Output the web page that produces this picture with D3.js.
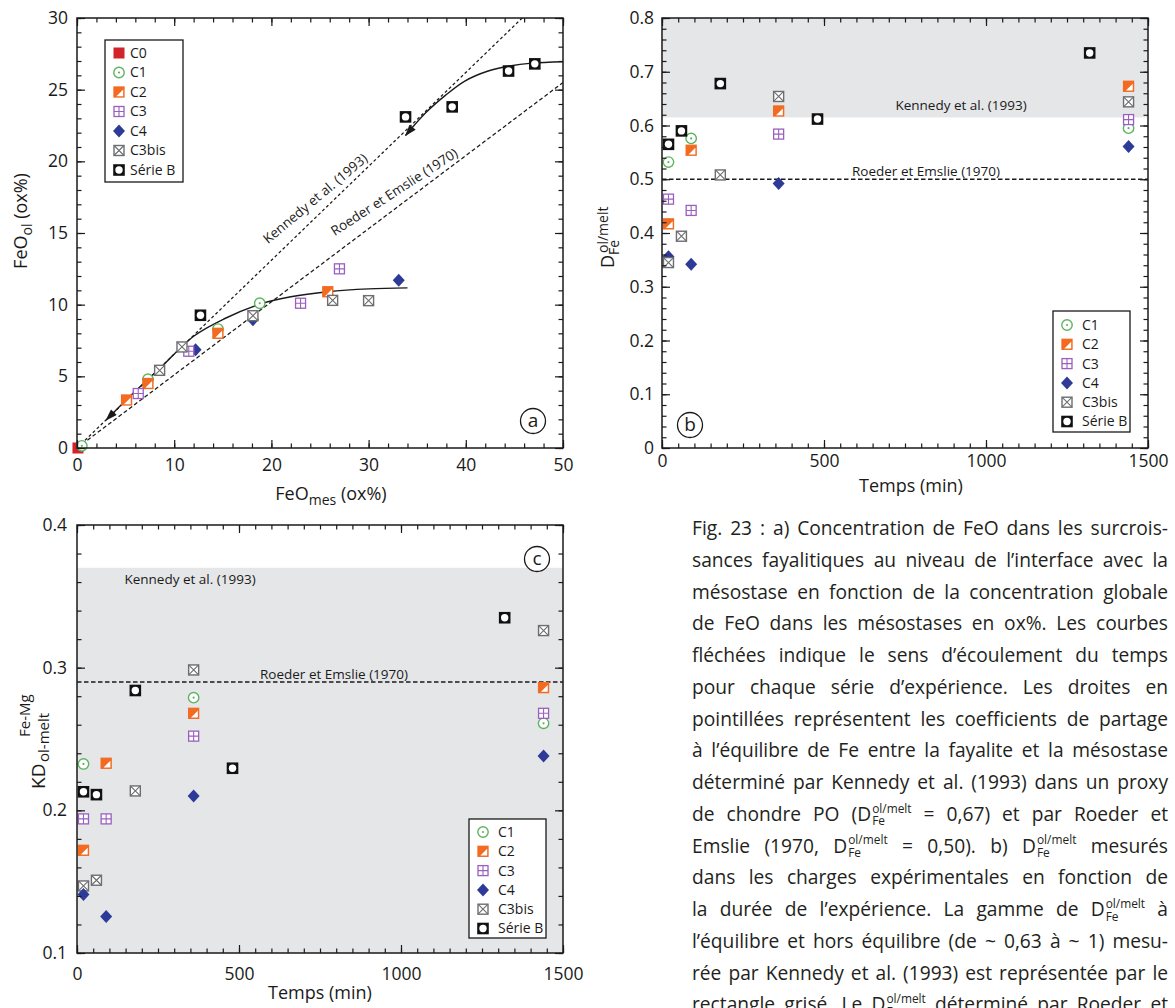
<!DOCTYPE html>
<html><head><meta charset="utf-8">
<script src="https://cdn.jsdelivr.net/npm/d3@7"></script>
<style>
html,body{margin:0;padding:0;background:#fff;overflow:hidden;width:1175px;height:1008px}
svg{display:block}
</style></head><body>
<svg id="fig" width="1175" height="1008"></svg>
<script>
// ================= DATA =================
const seriesNames = ["C0","C1","C2","C3","C4","C3bis","Série B"];

// Panel a : FeO_mes (ox%) -> FeO_ol (ox%)
const aC0     = [[0.1,0.0]];
const aC1     = [[0.5,0.15],[7.3,4.8],[14.5,8.3],[18.8,10.1]];
const aC2     = [[5.1,3.35],[7.3,4.5],[14.5,8.0],[25.8,10.9]];
const aC3     = [[6.3,3.8],[11.5,6.75],[23.0,10.1],[27.0,12.5]];
const aC4     = [[12.2,6.85],[18.1,8.95],[33.1,11.7]];
const aC3bis  = [[8.5,5.42],[10.8,7.05],[18.1,9.23],[26.3,10.3],[30.0,10.28]];
const aSerieB = [[12.7,9.26],[33.8,23.1],[38.6,23.8],[44.4,26.3],[47.1,26.8]];
const aCurveC = [[3.0,1.95],[5.5,3.65],[8.6,5.6],[12.0,7.8],[15.1,9.0],[18.9,10.05],[22.0,10.55],[25.8,10.9],[30.0,11.1],[34.0,11.17]];
const aCurveB = [[33.8,21.8],[35.9,23.4],[37.9,24.6],[39.9,25.6],[42.3,26.3],[44.5,26.65],[46.8,26.85],[50.0,26.95]];
const aRefNames  = ["Kennedy et al. (1993)","Roeder et Emslie (1970)"];
const aRefSlopes = [0.655, 0.51];
const aXTicks = [0,10,20,30,40,50];
const aYTicks = [0,5,10,15,20,25,30];

// Panel b : Temps (min) -> D Fe ol/melt
const bC1     = [[20,0.532],[90,0.576],[1440,0.595]];
const bC2     = [[20,0.417],[90,0.554],[360,0.627],[1440,0.673]];
const bC3     = [[20,0.463],[90,0.442],[360,0.584],[1440,0.611]];
const bC4     = [[20,0.356],[90,0.342],[360,0.492],[1440,0.561]];
const bC3bis  = [[20,0.345],[60,0.394],[180,0.508],[360,0.654],[1440,0.644]];
const bSerieB = [[20,0.565],[60,0.590],[180,0.678],[480,0.612],[1320,0.735]];
const bKennedyBand = [0.615, 0.8];
const bRoeder = 0.5;
const bXTicks = [0,500,1000,1500];
const bYTicks = [0,0.1,0.2,0.3,0.4,0.5,0.6,0.7,0.8];
const bYTickLabels = ["0","0.1","0.2","0.3","0.4","0.5","0.6","0.7","0.8"];

// Panel c : Temps (min) -> KD Fe-Mg ol-melt
const cC1     = [[20,0.2325],[360,0.279],[1440,0.261]];
const cC2     = [[20,0.172],[90,0.233],[360,0.268],[1440,0.286]];
const cC3     = [[20,0.194],[90,0.194],[360,0.252],[1440,0.268]];
const cC4     = [[20,0.141],[90,0.1255],[360,0.210],[1440,0.238]];
const cC3bis  = [[20,0.147],[60,0.151],[180,0.2136],[360,0.2984],[1440,0.326]];
const cSerieB = [[20,0.213],[60,0.211],[180,0.284],[480,0.2295],[1320,0.335]];
const cKennedyBand = [0.1, 0.37];
const cRoeder = 0.29;
const cXTicks = [0,500,1000,1500];
const cYTicks = [0.1,0.2,0.3,0.4];
const cYTickLabels = ["0.1","0.2","0.3","0.4"];

const captionLines = [
"Fig. 23 : a) Concentration de FeO dans les surcrois-",
"sances fayalitiques au niveau de l’interface avec la",
"mésostase en fonction de la concentration globale",
"de FeO dans les mésostases en ox%. Les courbes",
"fléchées indique le sens d’écoulement du temps",
"pour chaque série d’expérience. Les droites en",
"pointillées représentent les coefficients de partage",
"à l’équilibre de Fe entre la fayalite et la mésostase",
"déterminé par Kennedy et al. (1993) dans un proxy",
"de chondre PO ({D} = 0,67) et par Roeder et",
"Emslie (1970, {D} = 0,50). b) {D} mesurés",
"dans les charges expérimentales en fonction de",
"la durée de l’expérience. La gamme de {D} à",
"l’équilibre et hors équilibre (de ~ 0,63 à ~ 1) mesu-",
"rée par Kennedy et al. (1993) est représentée par le",
"rectangle grisé. Le {D} déterminé par Roeder et"
];

// ================= STYLE =================
const FONT = '"Open Sans","Noto Sans",sans-serif';
const INK = "#1a1a1a";
const TICK_FS = 17.5;
const COL = {"C0":"#d2232a","C1":"#5fb35f","C2":"#f26b21","C3":"#9b5fc0","C4":"#2e3a97","C3bis":"#6d6e70","Série B":"#111"};

const svg = d3.select("#fig").attr("font-family", FONT);

function drawMarker(g, name) {
  const c = COL[name];
  if (name === "C0") {
    g.append("rect").attr("x",-5.5).attr("y",-5.5).attr("width",11).attr("height",11).attr("fill",c);
  } else if (name === "C1") {
    g.append("circle").attr("r",5.2).attr("fill","#fff").attr("stroke",c).attr("stroke-width",1.4);
    g.append("circle").attr("r",1.1).attr("fill",c);
  } else if (name === "C2") {
    g.append("rect").attr("x",-5).attr("y",-5).attr("width",10).attr("height",10).attr("fill",c).attr("stroke",c).attr("stroke-width",1.3);
    g.append("path").attr("d","M4.2,-2.6 L4.2,4.2 L-2.6,4.2 Z").attr("fill","#fff");
  } else if (name === "C3") {
    g.append("rect").attr("x",-5).attr("y",-5).attr("width",10).attr("height",10).attr("fill","#fff").attr("stroke",c).attr("stroke-width",1.3);
    g.append("path").attr("d","M0,-5 V5 M-5,0 H5").attr("stroke",c).attr("stroke-width",1.1);
  } else if (name === "C4") {
    g.append("path").attr("d","M0,-6.5 L6,0 L0,6.5 L-6,0 Z").attr("fill",c);
  } else if (name === "C3bis") {
    g.append("rect").attr("x",-5).attr("y",-5).attr("width",10).attr("height",10).attr("fill","#fff").attr("stroke",c).attr("stroke-width",1.4);
    g.append("path").attr("d","M-5,-5 L5,5 M5,-5 L-5,5").attr("stroke",c).attr("stroke-width",1.1);
  } else {
    g.append("rect").attr("x",-5.8).attr("y",-5.8).attr("width",11.6).attr("height",11.6).attr("fill",c);
    g.append("circle").attr("r",3.7).attr("fill","#fff");
  }
}

function drawAxes(g, x, y, o) {
  const [x0,x1] = x.range(), [y0,y1] = y.range();
  const mk = (axis, tr, vals, size, labels, pad) => {
    const a = axis.tickValues(vals).tickSize(-size).tickPadding(pad||0)
      .tickFormat(labels ? ((d,i)=>labels[i]) : () => "");
    const gg = g.append("g").attr("transform", tr).call(a);
    gg.select(".domain").remove();
    gg.selectAll(".tick line").attr("stroke",INK).attr("stroke-width",1.2);
    gg.selectAll("text").attr("font-size",TICK_FS).attr("fill",INK).attr("font-family",FONT);
  };
  mk(d3.axisBottom(x), `translate(0,${y0})`, o.xMinor, 4.5);
  mk(d3.axisBottom(x), `translate(0,${y0})`, o.xMajor, 8, o.xLabels, o.xPad);
  mk(d3.axisTop(x), `translate(0,${y1})`, o.xMinor, 4.5);
  mk(d3.axisTop(x), `translate(0,${y1})`, o.xMajor, 8);
  mk(d3.axisLeft(y), `translate(${x0},0)`, o.yMinor, 4.5);
  mk(d3.axisLeft(y), `translate(${x0},0)`, o.yMajor, 8, o.yLabels, o.yPad);
  mk(d3.axisRight(y), `translate(${x1},0)`, o.yMinor, 4.5);
  mk(d3.axisRight(y), `translate(${x1},0)`, o.yMajor, 8);
  g.append("rect").attr("x",x0).attr("y",y1).attr("width",x1-x0).attr("height",y0-y1)
    .attr("fill","none").attr("stroke",INK).attr("stroke-width",1.5);
}

function drawSeries(g, x, y, list) {
  list.forEach(([name, pts]) => {
    g.selectAll(null).data(pts).enter().append("g")
      .attr("transform", d => `translate(${x(d[0])},${y(d[1])})`)
      .each(function(){ drawMarker(d3.select(this), name); });
  });
}

function drawLegend(g, left, top, w, h, names, mx, tx, y0, dy) {
  g.append("rect").attr("x",left).attr("y",top).attr("width",w).attr("height",h)
    .attr("fill","#fff").attr("stroke",INK).attr("stroke-width",1.3);
  names.forEach((n,i) => {
    const yy = y0 + i*dy;
    drawMarker(g.append("g").attr("transform",`translate(${left+mx},${yy})`), n);
    g.append("text").attr("x",left+tx).attr("y",yy).attr("dy","0.35em")
      .attr("font-size",14).attr("fill",INK).text(n);
  });
}

function circleLabel(g, cx, cy, t) {
  g.append("circle").attr("cx",cx).attr("cy",cy).attr("r",12.5).attr("fill","#fff").attr("stroke",INK).attr("stroke-width",1.3);
  g.append("text").attr("x",cx).attr("y",cy).attr("dy","0.33em").attr("text-anchor","middle")
    .attr("font-size",19).attr("fill",INK).text(t);
}

// arrow marker
svg.append("defs").append("marker").attr("id","arr").attr("viewBox","0 0 12 8")
  .attr("refX",11).attr("refY",4).attr("markerWidth",13).attr("markerHeight",8)
  .attr("markerUnits","userSpaceOnUse").attr("orient","auto")
  .append("path").attr("d","M0,0 L12,4 L0,8 Z").attr("fill",INK);

// ================= PANEL A =================
{
  const x = d3.scaleLinear([0,50],[77,563]);
  const y = d3.scaleLinear([0,30],[448,18]);
  const g = svg.append("g");
  svg.select("defs").append("clipPath").attr("id","clipA").append("rect")
    .attr("x",77).attr("y",18).attr("width",486).attr("height",430);
  const dashes = ["3,2.5","4,2.5"];
  aRefSlopes.forEach((k,i) => {
    g.append("line").attr("clip-path","url(#clipA)")
      .attr("x1",x(0)).attr("y1",y(0)).attr("x2",x(50)).attr("y2",y(50*k))
      .attr("stroke",INK).attr("stroke-width",1.25).attr("stroke-dasharray",dashes[i]);
  });
  const anchors = [25.5, 33.5];
  aRefSlopes.forEach((k,i) => {
    const ang = Math.atan2(y(0)-y(10*k), x(10)-x(0));
    const px = x(anchors[i]) - 14*Math.sin(ang), py = y(anchors[i]*k) - 14*Math.cos(ang);
    const deg = ang*180/Math.PI - 4;
    g.append("text").attr("transform",`translate(${px},${py}) rotate(${-deg})`)
      .attr("text-anchor","middle").attr("dy","0.35em").attr("font-size",13.5).attr("fill",INK)
      .text(aRefNames[i]);
  });
  const line = d3.line().x(d=>x(d[0])).y(d=>y(d[1])).curve(d3.curveCatmullRom);
  [aCurveC, aCurveB].forEach(c => {
    g.append("path").attr("d", line(c.slice().reverse())).attr("fill","none")
      .attr("stroke",INK).attr("stroke-width",1.4).attr("marker-end","url(#arr)");
  });
  drawSeries(g, x, y, [["C0",aC0],["C1",aC1],["C4",aC4],["C2",aC2],["C3",aC3],["C3bis",aC3bis],["Série B",aSerieB]]);
  drawAxes(g, x, y, {xMajor:aXTicks, xMinor:d3.range(0,50.01,2), yMajor:aYTicks, yMinor:d3.range(0,30.01,1),
    xLabels:aXTicks.map(String), yLabels:aYTicks.map(String), xPad:11, yPad:9});
  drawLegend(g, 105, 40, 78, 142, seriesNames, 14, 25, 53, 19.5);
  circleLabel(g, 533, 421, "a");
  const xt = g.append("text").attr("x",331).attr("y",500).attr("text-anchor","middle").attr("font-size",18).attr("fill",INK);
  xt.append("tspan").text("FeO");
  xt.append("tspan").attr("font-size",14).attr("dy",5).text("mes");
  xt.append("tspan").attr("dy",-5).text(" (ox%)");
  const yt = g.append("text").attr("transform","translate(27,221) rotate(-90)").attr("text-anchor","middle").attr("font-size",18).attr("fill",INK);
  yt.append("tspan").text("FeO");
  yt.append("tspan").attr("font-size",14).attr("dy",5).text("ol");
  yt.append("tspan").attr("dy",-5).text(" (ox%)");
}

// ================= PANEL B =================
{
  const x = d3.scaleLinear([0,1500],[662,1148]);
  const y = d3.scaleLinear([0,0.8],[448,18]);
  const g = svg.append("g");
  g.append("rect").attr("x",x(0)).attr("y",y(bKennedyBand[1])).attr("width",x(1500)-x(0))
    .attr("height",y(bKennedyBand[0])-y(bKennedyBand[1])).attr("fill","#e5e6e8");
  g.append("line").attr("x1",x(0)).attr("x2",x(1500)).attr("y1",y(bRoeder)).attr("y2",y(bRoeder))
    .attr("stroke",INK).attr("stroke-width",1.6).attr("stroke-dasharray","4.5,2.5");
  g.append("text").attr("x",961).attr("y",105).attr("dy","0.35em").attr("text-anchor","middle").attr("font-size",13.5).attr("fill",INK).text(aRefNames[0]);
  g.append("text").attr("x",926).attr("y",171).attr("dy","0.35em").attr("text-anchor","middle").attr("font-size",13.5).attr("fill",INK).text(aRefNames[1]);
  drawSeries(g, x, y, [["C1",bC1],["C4",bC4],["C2",bC2],["C3",bC3],["C3bis",bC3bis],["Série B",bSerieB]]);
  drawAxes(g, x, y, {xMajor:bXTicks, xMinor:d3.range(0,1500.1,50), yMajor:bYTicks, yMinor:d3.range(0,0.8001,0.02),
    xLabels:bXTicks.map(String), yLabels:bYTickLabels, xPad:7, yPad:8});
  drawLegend(g, 1053, 311, 77, 121, seriesNames.slice(1), 14, 29, 325, 19.3);
  circleLabel(g, 690, 425, "b");
  g.append("text").attr("x",911).attr("y",492).attr("text-anchor","middle").attr("font-size",18).attr("fill",INK).text("Temps (min)");
  const yt = g.append("g").attr("transform","translate(614,268) rotate(-90)").attr("fill",INK);
  yt.append("text").attr("font-size",18).text("D");
  yt.append("text").attr("x",15).attr("y",-6).attr("font-size",14).text("ol/melt");
  yt.append("text").attr("x",13).attr("y",5).attr("font-size",14).text("Fe");
}

// ================= PANEL C =================
{
  const x = d3.scaleLinear([0,1500],[77,563]);
  const y = d3.scaleLinear([0.1,0.4],[953,525]);
  const g = svg.append("g");
  g.append("rect").attr("x",x(0)).attr("y",y(cKennedyBand[1])).attr("width",x(1500)-x(0))
    .attr("height",y(cKennedyBand[0])-y(cKennedyBand[1])).attr("fill","#e5e6e8");
  g.append("line").attr("x1",x(0)).attr("x2",x(1500)).attr("y1",y(cRoeder)).attr("y2",y(cRoeder))
    .attr("stroke",INK).attr("stroke-width",1.6).attr("stroke-dasharray","4.5,2.5");
  g.append("text").attr("x",190).attr("y",579).attr("dy","0.35em").attr("text-anchor","middle").attr("font-size",13.5).attr("fill",INK).text(aRefNames[0]);
  g.append("text").attr("x",334).attr("y",674).attr("dy","0.35em").attr("text-anchor","middle").attr("font-size",13.5).attr("fill",INK).text(aRefNames[1]);
  drawSeries(g, x, y, [["C1",cC1],["C2",cC2],["C3",cC3],["C3bis",cC3bis],["C4",cC4],["Série B",cSerieB]]);
  drawAxes(g, x, y, {xMajor:cXTicks, xMinor:d3.range(0,1500.1,50), yMajor:cYTicks, yMinor:d3.range(0.1,0.4001,0.02),
    xLabels:cXTicks.map(String), yLabels:cYTickLabels, xPad:15, yPad:10});
  drawLegend(g, 469, 819, 77, 119, seriesNames.slice(1), 14, 29, 832, 19.3);
  circleLabel(g, 537, 559, "c");
  g.append("text").attr("x",320).attr("y",999).attr("text-anchor","middle").attr("font-size",18).attr("fill",INK).text("Temps (min)");
  const yt = g.append("g").attr("transform","translate(45,789) rotate(-90)").attr("fill",INK);
  yt.append("text").attr("font-size",19).text("KD");
  yt.append("text").attr("x",27).attr("y",4).attr("font-size",15).text("ol-melt");
  yt.append("text").attr("x",52).attr("y",-15).attr("font-size",15).text("Fe-Mg");
}

// ================= CAPTION =================
{
  const L = 692, R = 1168, W = R - L, base0 = 535, lh = 31.75;
  const g = svg.append("g").attr("fill","#231f20");
  const meas = (t, fs) => {
    const e = g.append("text").attr("font-size",fs).text(t);
    const w = e.node().getComputedTextLength(); e.remove(); return w;
  };
  const SUP = 0.62;
  const tokenWidth = (tok, fs) => {
    const parts = tok.split("{D}");
    let w = 0;
    parts.forEach((p,i) => {
      if (p) w += meas(p, fs);
      if (i < parts.length-1) w += meas("D", fs) + Math.max(meas("ol/melt", fs*SUP), meas("Fe", fs*SUP)) + 1;
    });
    return w;
  };
  const natural = (line, fs) => {
    const toks = line.split(" ");
    return d3.sum(toks, t => tokenWidth(t, fs)) + (toks.length-1)*0.22*fs;
  };
  const fs = 19.2;
  const maxNat = d3.max(captionLines, l => natural(l, fs));
  const sx = Math.min(1, W / maxNat);
  const Wu = W / sx;
  captionLines.forEach((line, li) => {
    const yb = base0 + li*lh;
    const lg = g.append("g").attr("transform", `translate(${L},${yb}) scale(${sx},1)`);
    const toks = line.split(" ");
    const ws = toks.map(t => tokenWidth(t, fs));
    const gap = (Wu - d3.sum(ws)) / (toks.length - 1);
    let cx = 0;
    toks.forEach((tok, ti) => {
      let px = cx;
      const parts = tok.split("{D}");
      parts.forEach((p,i) => {
        if (p) { lg.append("text").attr("x",px).attr("y",0).attr("font-size",fs).text(p); px += meas(p, fs); }
        if (i < parts.length-1) {
          lg.append("text").attr("x",px).attr("y",0).attr("font-size",fs).text("D");
          const wd = meas("D", fs);
          lg.append("text").attr("x",px+wd+1).attr("y",-fs*0.42).attr("font-size",fs*SUP).text("ol/melt");
          lg.append("text").attr("x",px+wd+1).attr("y",fs*0.24).attr("font-size",fs*SUP).text("Fe");
          px += wd + Math.max(meas("ol/melt", fs*SUP), meas("Fe", fs*SUP)) + 1;
        }
      });
      cx += ws[ti] + gap;
    });
  });
}
</script>
</body></html>
